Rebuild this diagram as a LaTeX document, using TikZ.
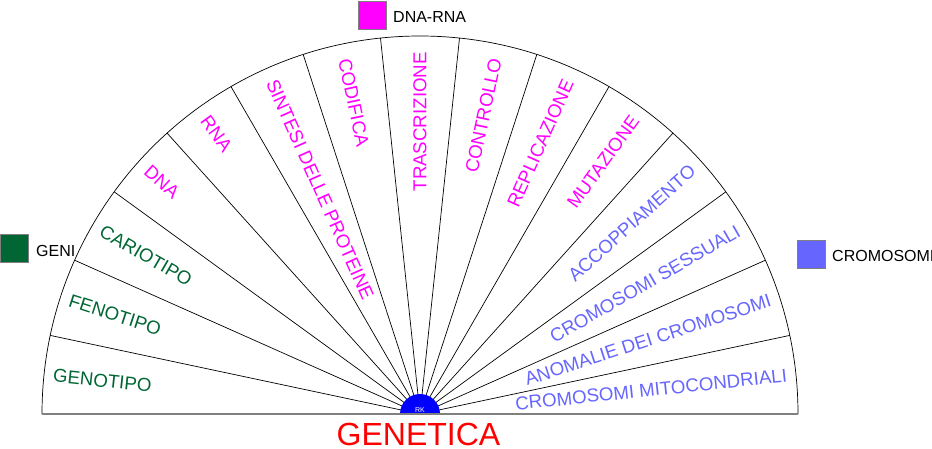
\documentclass[tikz,border=0pt]{standalone}
\usepackage{fontspec}
\setmainfont{Liberation Sans}
\definecolor{geni}{RGB}{0,102,51}
\definecolor{dna}{RGB}{255,0,255}
\definecolor{crom}{RGB}{102,102,255}
\begin{document}
\begin{tikzpicture}[x=1pt,y=1pt,
  lbl/.style={font=\fontsize{18.7}{20}\selectfont, inner sep=0pt},
  leg/.style={font=\fontsize{16}{18}\selectfont, inner sep=0pt, anchor=west},
  sq/.style={draw=gray, line width=0.8pt, minimum size=28pt, inner sep=0pt},
  ray/.style={line width=0.7pt}]
\useasboundingbox (0,0) rectangle (932,448);
\coordinate (c) at (420,34);
\foreach \k in {1,...,14} \draw[ray] (c) -- ++(\k*12:378) coordinate (r\k);
\path (c) ++(0:378) coordinate (e0);
\path (c) ++(180:378) coordinate (e15);
\draw[ray] (e0) arc (0:180:378);
% right labels
\foreach \a/\t/\cl in {6/CROMOSOMI MITOCONDRIALI/crom, 18/ANOMALIE DEI CROMOSOMI/crom, 30/CROMOSOMI SESSUALI/crom, 42/ACCOPPIAMENTO/crom, 54/MUTAZIONE/dna, 66/REPLICAZIONE/dna, 78/CONTROLLO/dna, 90/TRASCRIZIONE/dna}
  \path (c) ++(\a:{362+7*abs(cos(\a))}) node[lbl, text=\cl, anchor=east, rotate=\a] (l\a) {\t};
% left labels
\foreach \a/\t/\cl in {102/CODIFICA/dna, 114/SINTESI DELLE PROTEINE/dna, 126/RNA/dna, 138/DNA/dna, 150/CARIOTIPO/geni, 162/FENOTIPO/geni, 174/GENOTIPO/geni}
  \path (c) ++(\a:{362+7*abs(cos(\a))}) node[lbl, text=\cl, anchor=west, rotate=\a-180] (l\a) {\t};
% centre disc
\fill[blue] (c) ++(20,0) arc (0:180:20) -- cycle;
\node[text=white, font=\fontsize{7}{8}\selectfont, inner sep=0pt] (rk) at (420,37.5) {RK};
\draw[gray, line width=1.3pt] (e15) -- (e0);
% title
\node[text=red, font=\fontsize{32}{34}\selectfont, inner sep=0pt, anchor=base] (title) at (418.5,3) {GENETICA};
% legend
\node[sq, fill=dna] (sqd) at (372,433) {};
\node[leg] (td) at (393,431) {DNA-RNA};
\node[sq, fill=geni] (sqg) at (14.5,200) {};
\node[leg] (tg) at (36,197) {GENI};
\node[sq, fill=crom] (sqc) at (811.5,194) {};
\node[leg] (tc) at (832,192) {CROMOSOMI};
\end{tikzpicture}
\end{document}
